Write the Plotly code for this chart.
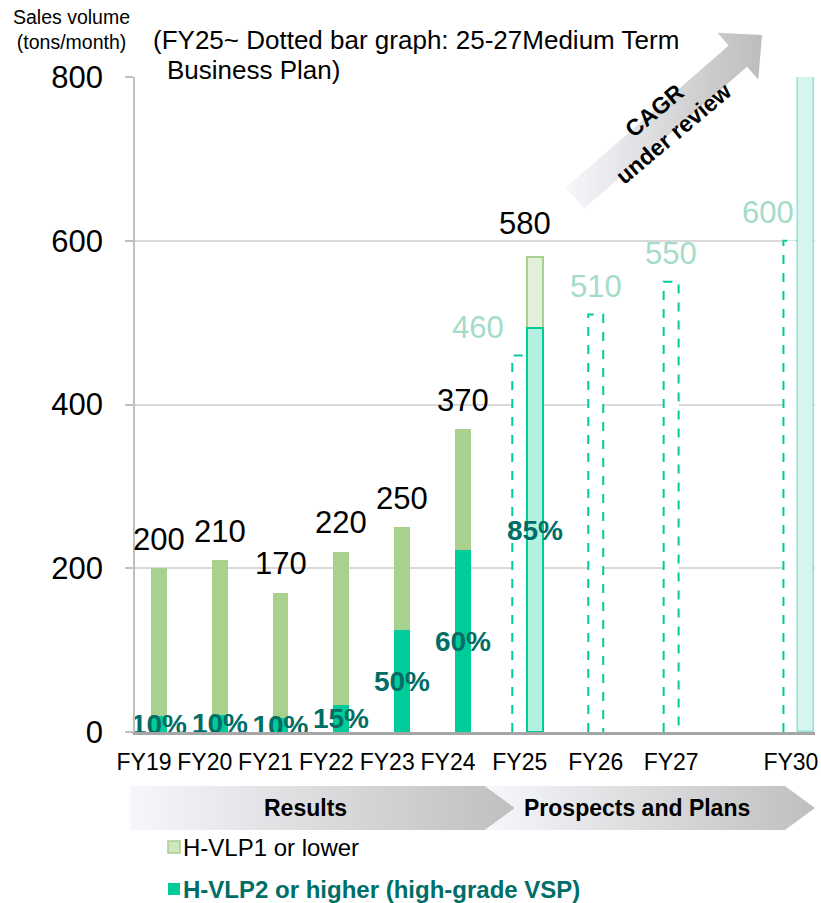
import plotly.graph_objects as go

# ---------------- data ----------------
categories = ["FY19", "FY20", "FY21", "FY22", "FY23", "FY24", "FY25", "FY26", "FY27", "FY30"]

result_cats = ["FY19", "FY20", "FY21", "FY22", "FY23", "FY24"]
result_total = [200, 210, 170, 220, 250, 370]          # H-VLP1 or lower + H-VLP2 or higher
result_high = [20, 21, 17, 33, 125, 222]               # H-VLP2 or higher
result_pct = [10, 10, 10, 15, 50, 60]

fy25_cat = ["FY25"]
fy25_total = [580]
fy25_high = [493]
fy25_pct = [85]

plan_cats = ["FY25", "FY26", "FY27", "FY30"]
plan_values = [460, 510, 550, 600]                     # dotted bars (25-27 Medium Term Business Plan)

outlook_cat = ["FY30"]
outlook_value = [800]                                  # light bar running off the top

y_ticks = [0, 200, 400, 600, 800]

# ---------------- layout constants ----------------
W, H = 821, 903
FONT = "Liberation Sans, Arial, sans-serif"
SLOT = {"FY19": 0, "FY20": 1, "FY21": 2, "FY22": 3, "FY23": 4, "FY24": 5,
        "FY25": 6.18, "FY26": 7.43, "FY27": 8.67, "FY30": 10.64}
X_RANGE = [-0.148, 11.036]
BAR_W = 0.26
ACT_OFF = 0.115
PLAN_HALF = 0.123

C_LIGHT = "#a9d18e"
C_TEAL = "#00cc99"
C_PCT = "#006e66"
C_PLAN_TXT = "#a3dcc8"

fig = go.Figure()

# results: total (green) then high-grade (teal) overlaid from 0
fig.add_trace(go.Bar(
    x=[SLOT[c] for c in result_cats], y=result_total, width=BAR_W, offset=ACT_OFF,
    marker=dict(color=C_LIGHT, line=dict(width=0)), hoverinfo="skip"))
fig.add_trace(go.Bar(
    x=[SLOT[c] for c in result_cats], y=result_high, width=BAR_W, offset=ACT_OFF,
    marker=dict(color=C_TEAL, line=dict(width=0)),
    text=[f"<b>{p}%</b>" for p in result_pct], textposition="inside",
    insidetextanchor="middle", textangle=0, constraintext="none",
    textfont=dict(family=FONT, size=28, color=C_PCT), cliponaxis=False, hoverinfo="skip"))

# FY25 outlook
fig.add_trace(go.Bar(
    x=[SLOT[c] for c in fy25_cat], y=fy25_total, width=BAR_W, offset=ACT_OFF,
    marker=dict(color="#e2efda", line=dict(color=C_LIGHT, width=2)), hoverinfo="skip"))
fig.add_trace(go.Bar(
    x=[SLOT[c] for c in fy25_cat], y=fy25_high, width=BAR_W, offset=ACT_OFF,
    marker=dict(color="#b4f0e0", line=dict(color=C_TEAL, width=2)),
    text=[f"<b>{p}%</b>" for p in fy25_pct], textposition="inside",
    insidetextanchor="middle", textangle=0, constraintext="none",
    textfont=dict(family=FONT, size=28, color=C_PCT), cliponaxis=False, hoverinfo="skip"))

# FY30 light bar
fig.add_trace(go.Bar(
    x=[SLOT[c] for c in outlook_cat], y=outlook_value, width=BAR_W, offset=ACT_OFF,
    marker=dict(color="#d5f5ee", line=dict(color="#8ee4d5", width=1.5)), hoverinfo="skip"))

# dotted plan bars
for c, v in zip(plan_cats, plan_values):
    s = SLOT[c]
    fig.add_shape(type="path", xref="x", yref="y", layer="between",
                  path=f"M {s-PLAN_HALF},0 L {s-PLAN_HALF},{v} L {s+PLAN_HALF},{v} L {s+PLAN_HALF},0",
                  line=dict(color=C_TEAL, width=2, dash="dash"), fillcolor="white")

# total labels
for c, v in zip(result_cats, result_total):
    fig.add_annotation(x=SLOT[c] + ACT_OFF + BAR_W / 2, y=v, xref="x", yref="y",
                       text=str(v), showarrow=False, yanchor="middle", yshift=29,
                       font=dict(family=FONT, size=31, color="black"))
for c, v in zip(fy25_cat, fy25_total):
    fig.add_annotation(x=SLOT[c] + ACT_OFF + BAR_W / 2, y=v, xref="x", yref="y",
                       text=str(v), showarrow=False, yanchor="middle", yshift=34, xshift=-10,
                       font=dict(family=FONT, size=31, color="black"))
plan_label_nudge = {"FY25": -42, "FY26": 0, "FY27": 0, "FY30": -23}
for c, v in zip(plan_cats, plan_values):
    fig.add_annotation(x=SLOT[c], y=v, xref="x", yref="y",
                       text=str(v), showarrow=False, yanchor="middle", yshift=28,
                       xshift=plan_label_nudge[c],
                       font=dict(family=FONT, size=31, color=C_PLAN_TXT))

# ---------------- decorations on a pixel overlay ----------------
def poly(xs, ys, c0, c1):
    fig.add_trace(go.Scatter(
        x=xs + [xs[0]], y=ys + [ys[0]], xaxis="x2", yaxis="y2", mode="lines",
        line=dict(width=0), fill="toself",
        fillgradient=dict(type="horizontal", colorscale=[[0, c0], [1, c1]]),
        hoverinfo="skip"))

# CAGR arrow
poly([565.8, 728.7, 717.5, 762.0, 758.3, 747.1, 584.2],
     [187.4, 45.5, 32.7, 35.0, 79.5, 66.7, 208.6], "#f6f7fb", "#bdbdbd")
# chevrons
poly([130, 485, 515, 485, 130], [786, 786, 808, 830, 830], "#f6f7fb", "#bfbfbf")
poly([485, 785, 815, 785, 485, 515], [786, 786, 808, 830, 830, 808], "#f6f7fb", "#bfbfbf")

# legend squares
fig.add_trace(go.Scatter(x=[174], y=[847], xaxis="x2", yaxis="y2", mode="markers",
                         marker=dict(symbol="square", size=12, color="#cfe6bf",
                                     line=dict(color=C_LIGHT, width=1.5)), hoverinfo="skip"))
fig.add_trace(go.Scatter(x=[174], y=[889], xaxis="x2", yaxis="y2", mode="markers",
                         marker=dict(symbol="square", size=12, color=C_TEAL,
                                     line=dict(width=0)), hoverinfo="skip"))

def note(x, y, text, size, color="black", xanchor="center", angle=0):
    fig.add_annotation(x=x, y=y, xref="x2", yref="y2", text=text, showarrow=False,
                       xanchor=xanchor, yanchor="middle", textangle=angle,
                       font=dict(family=FONT, size=size, color=color))

note(71, 29, "Sales volume<br>(tons/month)", 19.5)
note(151, 40, "(FY25~ Dotted bar graph: 25-27Medium Term", 26, xanchor="left")
note(165, 70, "Business Plan)", 26, xanchor="left")
note(664, 122, "<b>CAGR<br>under review</b>", 23, angle=-40)
note(305, 808, "<b>Results</b>", 23)
note(637, 808, "<b>Prospects and Plans</b>", 23)
note(181, 847, "H-VLP1 or lower", 24, xanchor="left")
note(181, 889, "<b>H-VLP2 or higher (high-grade VSP)</b>", 24, color=C_PCT, xanchor="left")

fig.update_layout(
    width=W, height=H, margin=dict(l=0, r=0, t=0, b=0, pad=0, autoexpand=False),
    paper_bgcolor="white", plot_bgcolor="rgba(0,0,0,0)",
    barmode="overlay", bargap=0, showlegend=False,
    font=dict(family=FONT, color="black"),
    xaxis=dict(domain=[135 / W, 815 / W], range=X_RANGE, anchor="y", automargin=False,
               tickmode="array", tickvals=[SLOT[c] for c in categories], ticktext=categories,
               ticks="", showgrid=False, zeroline=False, showline=True,
               linecolor="#a6a6a6", linewidth=2.5, tickfont=dict(size=23, color="black"),
               ticklabelstandoff=8, fixedrange=True),
    yaxis=dict(domain=[1 - 732 / H, 1 - 77 / H], range=[0, 800], anchor="x", automargin=False,
               tickmode="array", tickvals=y_ticks, showgrid=True, gridcolor="#d9d9d9",
               gridwidth=1.5, zeroline=False, showline=True, linecolor="#bfbfbf",
               linewidth=1.5, ticks="outside", ticklen=8, tickcolor="#bfbfbf", tickwidth=1.5,
               tickfont=dict(size=31, color="black"), ticklabelstandoff=16, fixedrange=True),
    xaxis2=dict(domain=[0, 1], range=[0, W], anchor="y2", visible=False, fixedrange=True,
                automargin=False, showticklabels=False),
    yaxis2=dict(domain=[0, 1], range=[H, 0], anchor="x2", visible=False, fixedrange=True,
                automargin=False, showticklabels=False),
)

fig.write_html("out.html")
